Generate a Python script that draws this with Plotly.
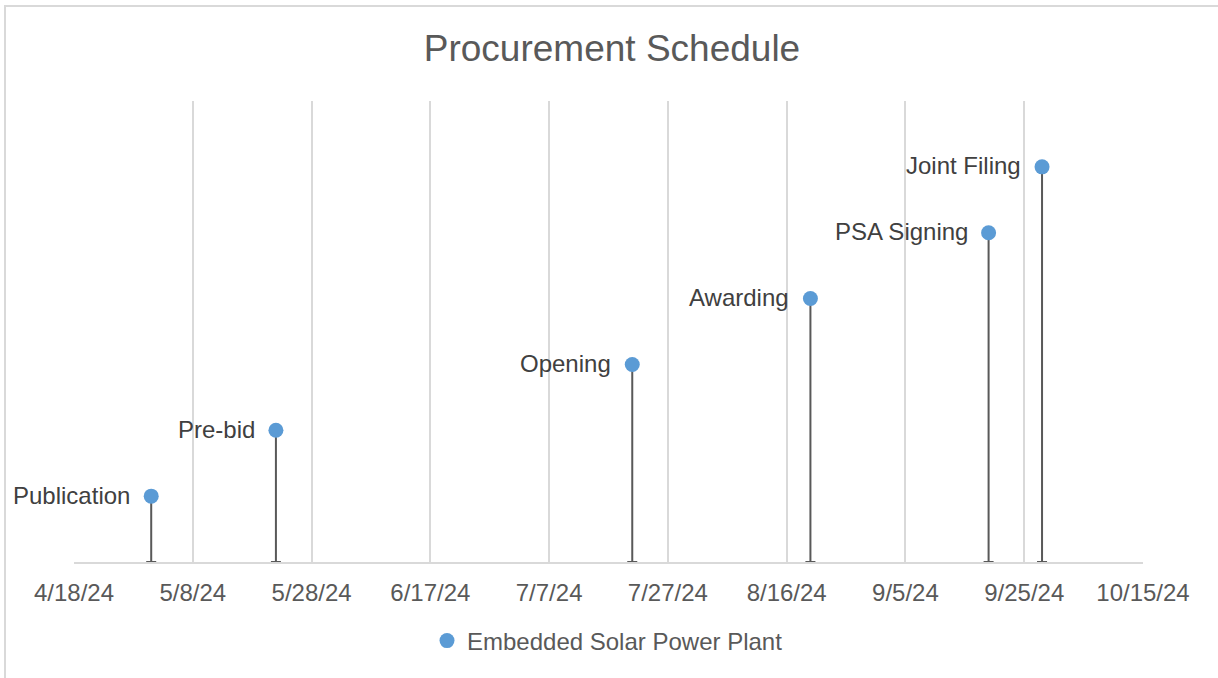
import plotly.graph_objects as go

milestones = ["Publication", "Pre-bid", "Opening", "Awarding", "PSA Signing", "Joint Filing"]
dates = ["2024-05-01", "2024-05-22", "2024-07-21", "2024-08-20", "2024-09-19", "2024-09-28"]
heights = [1, 2, 3, 4, 5, 6]
series_name = "Embedded Solar Power Plant"

FONT = "Liberation Sans, Arial, sans-serif"
TXT = "#595959"
GRID = "#D9D9D9"

W, H = 1218, 678
L, R, T, B = 74, 75, 101, 116
PW, PH = W - L - R, H - T - B

fig = go.Figure()
fig.add_trace(go.Scatter(
    x=dates, y=heights, mode="markers", name=series_name,
    marker=dict(color="#5B9BD5", size=15, line=dict(width=0)),
    error_y=dict(type="data", symmetric=False, array=[0] * len(heights),
                 arrayminus=heights, color="#595959", thickness=2, width=5),
    cliponaxis=False,
))

annotations = [
    dict(x=d, y=h, text=m, showarrow=False, xanchor="right", yanchor="middle",
         xshift=-19, yshift=1, font=dict(family=FONT, size=24, color="#404040"))
    for d, h, m in zip(dates, heights, milestones)
]

fig.update_layout(
    width=W, height=H,
    margin=dict(l=L, r=R, t=T, b=B),
    paper_bgcolor="white", plot_bgcolor="white",
    font=dict(family=FONT, color=TXT, size=24),
    title=dict(text="Procurement Schedule", x=612 / W, xanchor="center",
               y=1 - 48 / H, yanchor="middle", yref="container",
               font=dict(family=FONT, size=37, color=TXT)),
    showlegend=True,
    legend=dict(orientation="h", x=0.5 - 1 / PW, xanchor="center",
                y=-(641 - 562) / PH, yanchor="middle",
                font=dict(family=FONT, size=24, color=TXT)),
    xaxis=dict(type="date", range=["2024-04-18", "2024-10-15"],
               tick0="2024-04-18", dtick=20 * 86400000, tickformat="%-m/%-d/%y",
               showgrid=True, gridcolor=GRID, gridwidth=2,
               showline=True, linecolor=GRID, linewidth=2,
               ticks="outside", ticklen=8, tickcolor="rgba(0,0,0,0)",
               tickfont=dict(family=FONT, size=24, color=TXT), zeroline=False),
    yaxis=dict(range=[0, 7], visible=False, showgrid=False, zeroline=False),
    annotations=annotations,
    shapes=[dict(type="rect", xref="paper", yref="paper",
                 x0=(5 - L) / PW, x1=(1230 - L) / PW,
                 y0=(562 - 700) / PH, y1=(562 - 6) / PH,
                 line=dict(color=GRID, width=2), layer="below")],
)

fig.write_html("out.html", config={"displayModeBar": False},
               post_script="document.body.style.margin='0px';")
